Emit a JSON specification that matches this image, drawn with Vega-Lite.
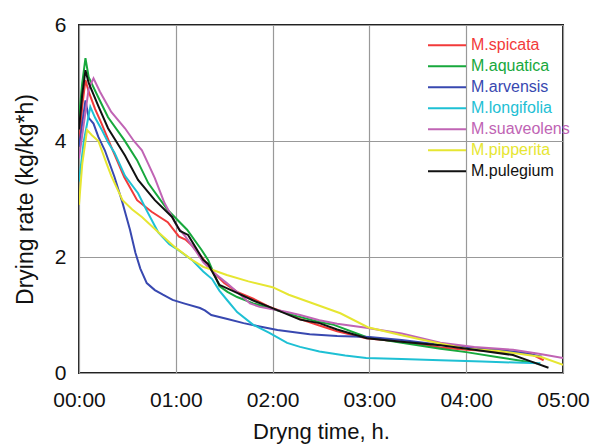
{
  "$schema": "https://vega.github.io/schema/vega-lite/v6.json",
  "width": 484,
  "height": 348,
  "autosize": {"type": "none"},
  "padding": {"left": 79, "top": 25, "right": 32, "bottom": 71},
  "background": "white",
  "config": {
    "font": "Liberation Sans",
    "view": {"stroke": "#222", "strokeWidth": 2},
    "axis": {"labelFont": "Liberation Sans", "titleFont": "Liberation Sans", "labelColor": "#111", "titleColor": "#111", "titleFontWeight": "normal", "domain": false, "ticks": false, "gridColor": "#999", "gridWidth": 1.2, "gridOpacity": 1}
  },
  "data": {"values": [
    {"s":"M.spicata","t":0,"v":3.9},{"s":"M.spicata","t":2,"v":4.6},{"s":"M.spicata","t":4,"v":5.05},{"s":"M.spicata","t":6,"v":4.85},{"s":"M.spicata","t":10,"v":4.55},{"s":"M.spicata","t":14,"v":4.3},{"s":"M.spicata","t":20,"v":3.9},{"s":"M.spicata","t":28,"v":3.38},{"s":"M.spicata","t":36,"v":2.98},{"s":"M.spicata","t":45,"v":2.78},{"s":"M.spicata","t":55,"v":2.6},{"s":"M.spicata","t":62,"v":2.35},{"s":"M.spicata","t":66,"v":2.3},{"s":"M.spicata","t":70,"v":2.2},{"s":"M.spicata","t":76,"v":2.0},{"s":"M.spicata","t":84,"v":1.72},{"s":"M.spicata","t":90,"v":1.55},{"s":"M.spicata","t":98,"v":1.4},{"s":"M.spicata","t":108,"v":1.28},{"s":"M.spicata","t":118,"v":1.14},{"s":"M.spicata","t":129,"v":1.03},{"s":"M.spicata","t":137,"v":0.93},{"s":"M.spicata","t":149,"v":0.82},{"s":"M.spicata","t":160,"v":0.72},{"s":"M.spicata","t":178,"v":0.6},{"s":"M.spicata","t":195,"v":0.55},{"s":"M.spicata","t":210,"v":0.5},{"s":"M.spicata","t":224,"v":0.44},{"s":"M.spicata","t":240,"v":0.4},{"s":"M.spicata","t":255,"v":0.38},{"s":"M.spicata","t":270,"v":0.36},{"s":"M.spicata","t":280,"v":0.33},{"s":"M.spicata","t":288,"v":0.22},
    {"s":"M.aquatica","t":0,"v":4.4},{"s":"M.aquatica","t":2,"v":5.0},{"s":"M.aquatica","t":4,"v":5.43},{"s":"M.aquatica","t":6,"v":5.1},{"s":"M.aquatica","t":12,"v":4.75},{"s":"M.aquatica","t":18,"v":4.41},{"s":"M.aquatica","t":28,"v":4.02},{"s":"M.aquatica","t":36,"v":3.67},{"s":"M.aquatica","t":43,"v":3.27},{"s":"M.aquatica","t":55,"v":2.81},{"s":"M.aquatica","t":67,"v":2.47},{"s":"M.aquatica","t":76,"v":2.12},{"s":"M.aquatica","t":80,"v":1.95},{"s":"M.aquatica","t":87,"v":1.5},{"s":"M.aquatica","t":92,"v":1.4},{"s":"M.aquatica","t":98,"v":1.31},{"s":"M.aquatica","t":108,"v":1.2},{"s":"M.aquatica","t":118,"v":1.12},{"s":"M.aquatica","t":135,"v":0.98},{"s":"M.aquatica","t":149,"v":0.88},{"s":"M.aquatica","t":158,"v":0.83},{"s":"M.aquatica","t":178,"v":0.62},{"s":"M.aquatica","t":200,"v":0.52},{"s":"M.aquatica","t":224,"v":0.42},{"s":"M.aquatica","t":240,"v":0.36},{"s":"M.aquatica","t":260,"v":0.27},{"s":"M.aquatica","t":284,"v":0.17},
    {"s":"M.arvensis","t":0,"v":3.9},{"s":"M.arvensis","t":2,"v":4.3},{"s":"M.arvensis","t":4,"v":4.7},{"s":"M.arvensis","t":6,"v":4.4},{"s":"M.arvensis","t":9,"v":4.3},{"s":"M.arvensis","t":12,"v":4.07},{"s":"M.arvensis","t":16,"v":3.84},{"s":"M.arvensis","t":22,"v":3.38},{"s":"M.arvensis","t":27,"v":2.93},{"s":"M.arvensis","t":31.6,"v":2.47},{"s":"M.arvensis","t":35,"v":2.07},{"s":"M.arvensis","t":38,"v":1.8},{"s":"M.arvensis","t":42,"v":1.55},{"s":"M.arvensis","t":47,"v":1.43},{"s":"M.arvensis","t":52,"v":1.35},{"s":"M.arvensis","t":58,"v":1.26},{"s":"M.arvensis","t":65,"v":1.2},{"s":"M.arvensis","t":75,"v":1.12},{"s":"M.arvensis","t":78,"v":1.08},{"s":"M.arvensis","t":82,"v":1.0},{"s":"M.arvensis","t":92,"v":0.93},{"s":"M.arvensis","t":102,"v":0.86},{"s":"M.arvensis","t":112,"v":0.8},{"s":"M.arvensis","t":123,"v":0.74},{"s":"M.arvensis","t":143,"v":0.67},{"s":"M.arvensis","t":160,"v":0.64},{"s":"M.arvensis","t":180,"v":0.62},{"s":"M.arvensis","t":200,"v":0.57},{"s":"M.arvensis","t":220,"v":0.5},{"s":"M.arvensis","t":240,"v":0.45},{"s":"M.arvensis","t":260,"v":0.4},{"s":"M.arvensis","t":275,"v":0.35},{"s":"M.arvensis","t":287,"v":0.28},
    {"s":"M.longifolia","t":0,"v":3.3},{"s":"M.longifolia","t":3,"v":4.0},{"s":"M.longifolia","t":7,"v":4.59},{"s":"M.longifolia","t":10,"v":4.4},{"s":"M.longifolia","t":14,"v":4.2},{"s":"M.longifolia","t":18,"v":3.98},{"s":"M.longifolia","t":22,"v":3.8},{"s":"M.longifolia","t":28.5,"v":3.4},{"s":"M.longifolia","t":36.6,"v":3.1},{"s":"M.longifolia","t":42,"v":2.8},{"s":"M.longifolia","t":49,"v":2.43},{"s":"M.longifolia","t":56,"v":2.22},{"s":"M.longifolia","t":60,"v":2.15},{"s":"M.longifolia","t":70,"v":1.95},{"s":"M.longifolia","t":77,"v":1.75},{"s":"M.longifolia","t":82.5,"v":1.62},{"s":"M.longifolia","t":87,"v":1.42},{"s":"M.longifolia","t":92,"v":1.25},{"s":"M.longifolia","t":98,"v":1.05},{"s":"M.longifolia","t":108,"v":0.83},{"s":"M.longifolia","t":118,"v":0.69},{"s":"M.longifolia","t":129,"v":0.52},{"s":"M.longifolia","t":137,"v":0.45},{"s":"M.longifolia","t":149,"v":0.37},{"s":"M.longifolia","t":165,"v":0.3},{"s":"M.longifolia","t":178,"v":0.26},{"s":"M.longifolia","t":200,"v":0.24},{"s":"M.longifolia","t":224,"v":0.22},{"s":"M.longifolia","t":250,"v":0.2},{"s":"M.longifolia","t":270,"v":0.18},{"s":"M.longifolia","t":286,"v":0.17},
    {"s":"M.suaveolens","t":0,"v":3.7},{"s":"M.suaveolens","t":3,"v":4.3},{"s":"M.suaveolens","t":6,"v":4.9},{"s":"M.suaveolens","t":9,"v":5.08},{"s":"M.suaveolens","t":13,"v":4.85},{"s":"M.suaveolens","t":20,"v":4.5},{"s":"M.suaveolens","t":28.5,"v":4.22},{"s":"M.suaveolens","t":34,"v":4.0},{"s":"M.suaveolens","t":39,"v":3.84},{"s":"M.suaveolens","t":43,"v":3.6},{"s":"M.suaveolens","t":47,"v":3.36},{"s":"M.suaveolens","t":53,"v":2.93},{"s":"M.suaveolens","t":61,"v":2.52},{"s":"M.suaveolens","t":66,"v":2.35},{"s":"M.suaveolens","t":72,"v":2.12},{"s":"M.suaveolens","t":77,"v":1.91},{"s":"M.suaveolens","t":84,"v":1.72},{"s":"M.suaveolens","t":91.6,"v":1.55},{"s":"M.suaveolens","t":100,"v":1.35},{"s":"M.suaveolens","t":106,"v":1.2},{"s":"M.suaveolens","t":112,"v":1.14},{"s":"M.suaveolens","t":120,"v":1.1},{"s":"M.suaveolens","t":129,"v":1.05},{"s":"M.suaveolens","t":137,"v":1.0},{"s":"M.suaveolens","t":149,"v":0.91},{"s":"M.suaveolens","t":160,"v":0.85},{"s":"M.suaveolens","t":178,"v":0.78},{"s":"M.suaveolens","t":200,"v":0.68},{"s":"M.suaveolens","t":224,"v":0.52},{"s":"M.suaveolens","t":245,"v":0.45},{"s":"M.suaveolens","t":269,"v":0.4},{"s":"M.suaveolens","t":285,"v":0.33},{"s":"M.suaveolens","t":300,"v":0.26},
    {"s":"M.pipperita","t":0,"v":2.9},{"s":"M.pipperita","t":2,"v":3.6},{"s":"M.pipperita","t":5,"v":4.19},{"s":"M.pipperita","t":8,"v":4.1},{"s":"M.pipperita","t":12,"v":4.0},{"s":"M.pipperita","t":17,"v":3.62},{"s":"M.pipperita","t":20,"v":3.4},{"s":"M.pipperita","t":27,"v":2.98},{"s":"M.pipperita","t":33,"v":2.82},{"s":"M.pipperita","t":39,"v":2.69},{"s":"M.pipperita","t":49,"v":2.43},{"s":"M.pipperita","t":59.5,"v":2.17},{"s":"M.pipperita","t":70,"v":1.95},{"s":"M.pipperita","t":77,"v":1.83},{"s":"M.pipperita","t":82.5,"v":1.78},{"s":"M.pipperita","t":91.6,"v":1.69},{"s":"M.pipperita","t":105,"v":1.58},{"s":"M.pipperita","t":120,"v":1.48},{"s":"M.pipperita","t":130,"v":1.35},{"s":"M.pipperita","t":143,"v":1.22},{"s":"M.pipperita","t":162,"v":1.03},{"s":"M.pipperita","t":179,"v":0.79},{"s":"M.pipperita","t":200,"v":0.65},{"s":"M.pipperita","t":220,"v":0.53},{"s":"M.pipperita","t":240,"v":0.42},{"s":"M.pipperita","t":260,"v":0.38},{"s":"M.pipperita","t":286,"v":0.28},{"s":"M.pipperita","t":300,"v":0.14},
    {"s":"M.pulegium","t":0,"v":4.2},{"s":"M.pulegium","t":2,"v":4.8},{"s":"M.pulegium","t":4,"v":5.22},{"s":"M.pulegium","t":6,"v":5.0},{"s":"M.pulegium","t":12,"v":4.6},{"s":"M.pulegium","t":18,"v":4.22},{"s":"M.pulegium","t":28.5,"v":3.75},{"s":"M.pulegium","t":36.6,"v":3.33},{"s":"M.pulegium","t":47,"v":2.98},{"s":"M.pulegium","t":57.7,"v":2.69},{"s":"M.pulegium","t":62.6,"v":2.45},{"s":"M.pulegium","t":67.6,"v":2.38},{"s":"M.pulegium","t":77,"v":1.95},{"s":"M.pulegium","t":80,"v":1.88},{"s":"M.pulegium","t":87,"v":1.52},{"s":"M.pulegium","t":98,"v":1.38},{"s":"M.pulegium","t":108,"v":1.25},{"s":"M.pulegium","t":118,"v":1.14},{"s":"M.pulegium","t":137,"v":0.92},{"s":"M.pulegium","t":149,"v":0.86},{"s":"M.pulegium","t":160,"v":0.75},{"s":"M.pulegium","t":178.5,"v":0.6},{"s":"M.pulegium","t":200,"v":0.54},{"s":"M.pulegium","t":224,"v":0.48},{"s":"M.pulegium","t":245,"v":0.4},{"s":"M.pulegium","t":269,"v":0.31},{"s":"M.pulegium","t":280,"v":0.2},{"s":"M.pulegium","t":291,"v":0.09}
  ]},
  "mark": {"type": "line", "strokeWidth": 2, "clip": true},
  "encoding": {
    "x": {"field": "t", "type": "quantitative", "scale": {"domain": [0, 300], "nice": false},
      "axis": {"values": [0, 60, 120, 180, 240, 300], "labelExpr": "'0' + floor(datum.value/60) + ':00'", "labelFontSize": 21, "labelPadding": 16, "title": "Dryng time, h.", "titleFontSize": 22, "titlePadding": 11, "labelFlush": false}},
    "y": {"field": "v", "type": "quantitative", "scale": {"domain": [0, 6], "nice": false},
      "axis": {"values": [0, 2, 4, 6], "labelFontSize": 21, "labelPadding": 13, "title": "Drying rate (kg/kg*h)", "titleFontSize": 23, "titlePadding": 17, "labelFlush": false}},
    "color": {"field": "s", "type": "nominal",
      "scale": {"domain": ["M.spicata", "M.aquatica", "M.arvensis", "M.longifolia", "M.suaveolens", "M.pipperita", "M.pulegium"],
        "range": ["#f23a3a", "#17a83c", "#3848b0", "#1ec0d4", "#c064b4", "#e6e632", "#111111"]},
      "legend": {"orient": "none", "legendX": 348, "legendY": 10, "title": null, "symbolType": "stroke", "symbolSize": 1444, "symbolStrokeWidth": 2, "labelFontSize": 16, "labelFont": "Liberation Sans", "labelOffset": 4, "clipHeight": 20.5, "rowPadding": 0, "padding": 0,
        "encode": {"labels": {"update": {"fill": {"scale": "color", "field": "value"}}}}}},
    "order": {"field": "t", "type": "quantitative"}
  }
}
